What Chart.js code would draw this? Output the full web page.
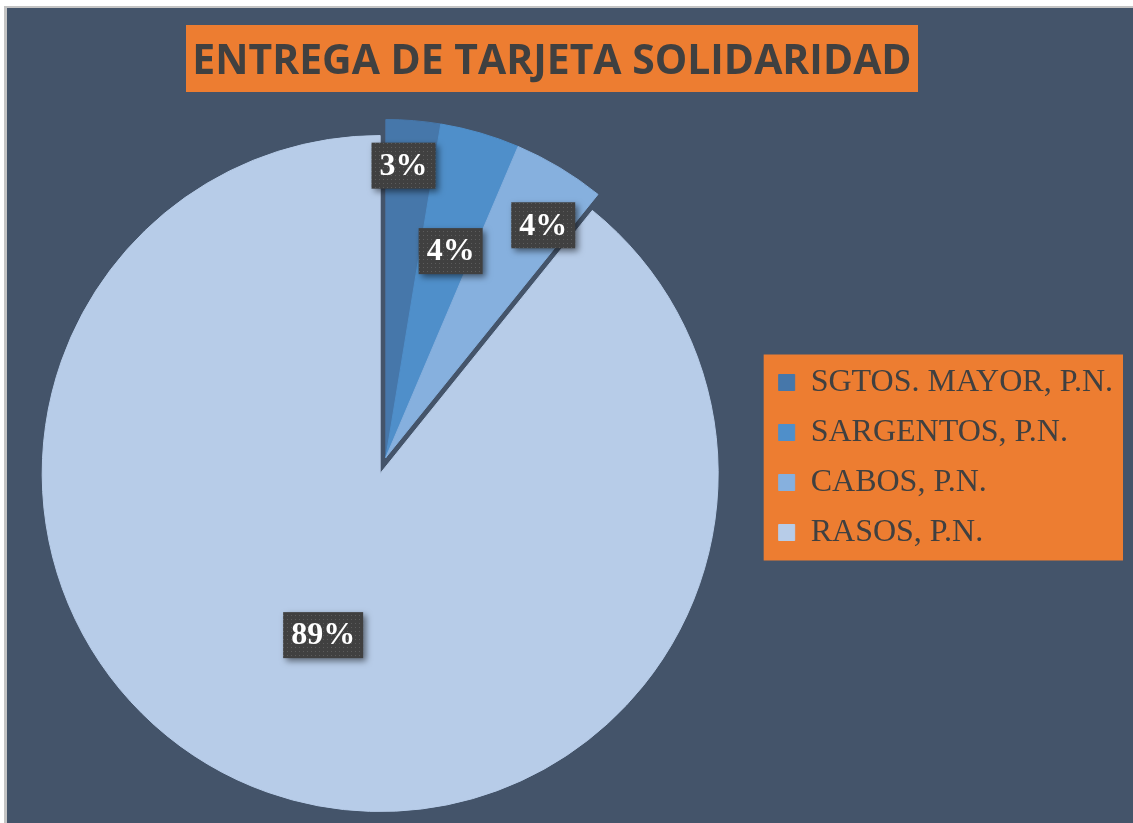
<!DOCTYPE html>
<html>
<head>
<meta charset="utf-8">
<title>Entrega de Tarjeta Solidaridad</title>
<script src="https://cdn.jsdelivr.net/npm/chart.js@4.4.1/dist/chart.umd.min.js"></script>
<style>
  html, body { margin: 0; padding: 0; background: #fff; overflow: hidden; }
  #frame {
    position: absolute; left: 4px; top: 6px; width: 1129px; height: 817px;
    box-sizing: border-box; background: #44546A;
    border-left: 3px solid #C4C4C4; border-top: 2px solid #C4C4C4;
  }
  #chart { position: absolute; left: 6px; top: 6px; }
</style>
</head>
<body>
<div id="frame"></div>
<canvas id="chart" width="1127" height="817"></canvas>
<script>
var chartTitle = 'ENTREGA DE TARJETA SOLIDARIDAD';
var categories = ['SGTOS. MAYOR, P.N.', 'SARGENTOS, P.N.', 'CABOS, P.N.', 'RASOS, P.N.'];
var shares = [2.6, 3.8, 4.4, 89.2];
var sliceColors = ['#4677AA', '#4F8FCA', '#86B0DE', '#B7CCE8'];

// how far each slice is pulled out of the pie, px (only RASOS)
var explode = [0, 0, 0, 17];
// where each % label sits: [part of the slice angle, part of the radius]
var labelAt = [[0.37, 0.865], [0.59, 0.64], [0.70, 0.83], [0.5, 0.507]];

var serif = '"Liberation Serif", "Times New Roman", serif';

var dotTile = function(base, dot) {
  var c = document.createElement('canvas');
  c.width = 4; c.height = 4;
  var g = c.getContext('2d');
  g.fillStyle = base; g.fillRect(0, 0, 4, 4);
  g.fillStyle = dot; g.fillRect(1, 1, 1, 1);
  return c;
};

// move exploded slices along their own bisector (plain translation, same radius)
var explodeSlices = {
  id: 'explodeSlices',
  afterDatasetsUpdate: function(chart) {
    chart.getDatasetMeta(0).data.forEach(function(arc, i) {
      if (!explode[i]) return;
      var mid = (arc.startAngle + arc.endAngle) / 2;
      arc.x += Math.cos(mid) * explode[i];
      arc.y += Math.sin(mid) * explode[i];
    });
  }
};

// orange panel behind the legend
var legendPanel = {
  id: 'legendPanel',
  beforeDraw: function(chart, args, opts) {
    var lg = chart.legend, hb = lg && lg.legendHitBoxes;
    if (!hb || !hb.length) return;
    var first = hb[0], last = hb[hb.length - 1];
    var ctx = chart.ctx;
    ctx.save();
    ctx.fillStyle = opts.color;
    ctx.fillRect(lg.left + 3, first.top - 12, lg.right - lg.left - 3, last.top + last.height - first.top + 24);
    ctx.restore();
  }
};

// dark dotted boxes with the percentages
var pctLabels = {
  id: 'pctLabels',
  afterDatasetsDraw: function(chart) {
    var ctx = chart.ctx;
    var data = chart.data.datasets[0].data;
    var total = data.reduce(function(s, v) { return s + v; }, 0);
    var pattern = ctx.createPattern(dotTile('#404040', '#5C5C5C'), 'repeat');
    ctx.save();
    ctx.font = 'bold 32px ' + serif;
    ctx.textAlign = 'center';
    ctx.textBaseline = 'middle';
    chart.getDatasetMeta(0).data.forEach(function(arc, i) {
      var a = arc.startAngle + (arc.endAngle - arc.startAngle) * labelAt[i][0];
      var r = arc.outerRadius * labelAt[i][1];
      var x = arc.x + Math.cos(a) * r;
      var y = arc.y + Math.sin(a) * r;
      var txt = Math.round(data[i] / total * 100) + '%';
      var w = ctx.measureText(txt).width + 16, h = 46;
      ctx.save();
      ctx.shadowColor = 'rgba(0, 0, 0, 0.5)';
      ctx.shadowBlur = 6;
      ctx.shadowOffsetX = 3;
      ctx.shadowOffsetY = 3;
      ctx.fillStyle = pattern;
      ctx.fillRect(x - w / 2, y - h / 2, w, h);
      ctx.restore();
      ctx.fillStyle = '#FFFFFF';
      ctx.fillText(txt, x, y + 1);
    });
    ctx.restore();
  }
};

// title on an orange banner
var titleBanner = {
  id: 'titleBanner',
  afterDraw: function(chart, args, opts) {
    var ctx = chart.ctx;
    ctx.save();
    ctx.font = 'bold 40px "Open Sans", sans-serif';
    var size = 40 * opts.textWidth / ctx.measureText(opts.text).width;
    ctx.font = 'bold ' + size.toFixed(1) + 'px "Open Sans", sans-serif';
    ctx.fillStyle = opts.background;
    ctx.fillRect(opts.centerX - opts.width / 2, opts.top, opts.width, opts.height);
    ctx.fillStyle = opts.color;
    ctx.textAlign = 'center';
    ctx.textBaseline = 'alphabetic';
    ctx.fillText(opts.text, opts.centerX, opts.baseline);
    ctx.restore();
  }
};

new Chart(document.getElementById('chart'), {
  type: 'pie',
  data: {
    labels: categories,
    datasets: [{
      data: shares,
      backgroundColor: sliceColors,
      borderColor: sliceColors,
      borderWidth: 1,
      hoverOffset: 0
    }]
  },
  options: {
    responsive: false,
    animation: false,
    events: [],
    layout: { padding: { left: 5, top: 113, right: 10, bottom: 27 } },
    plugins: {
      tooltip: { enabled: false },
      title: { display: false },
      legend: {
        position: 'right',
        labels: {
          boxWidth: 16,
          boxHeight: 16,
          padding: 18,
          color: '#404040',
          font: { family: serif, size: 32 }
        }
      },
      legendPanel: { color: '#ED7D31' },
      titleBanner: {
        text: chartTitle,
        color: '#404040',
        background: '#ED7D31',
        centerX: 546,
        top: 19,
        width: 732,
        height: 67,
        textWidth: 720,
        baseline: 68
      }
    }
  },
  plugins: [explodeSlices, legendPanel, pctLabels, titleBanner]
});
</script>
</body>
</html>
